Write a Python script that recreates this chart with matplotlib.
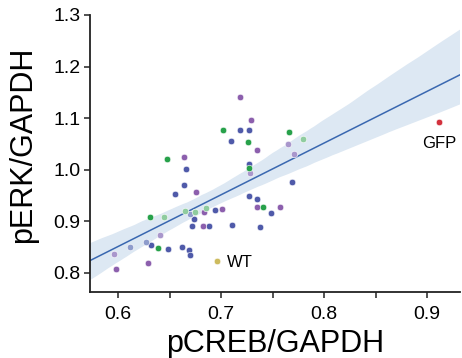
import numpy as np
import pandas as pd
import matplotlib
matplotlib.use("Agg")
import matplotlib.pyplot as plt
import seaborn as sns

# ---- data ----
blue_x = [0.666, 0.664, 0.655, 0.674, 0.694, 0.672, 0.688, 0.632, 0.648, 0.662, 0.669, 0.670,
          0.718, 0.727, 0.710, 0.727, 0.769, 0.727, 0.735, 0.748, 0.711, 0.738]
blue_y = [1.001, 0.971, 0.953, 0.904, 0.922, 0.890, 0.890, 0.854, 0.847, 0.851, 0.844, 0.834,
          1.078, 1.078, 1.055, 1.012, 0.976, 0.949, 0.944, 0.917, 0.893, 0.889]
purple_x = [0.664, 0.676, 0.683, 0.701, 0.682, 0.598, 0.629, 0.718, 0.729, 0.735, 0.735, 0.757]
purple_y = [1.025, 0.956, 0.918, 0.924, 0.891, 0.807, 0.820, 1.141, 1.097, 1.038, 0.927, 0.928]
green_x = [0.702, 0.647, 0.631, 0.639, 0.766, 0.726, 0.741, 0.727]
green_y = [1.078, 1.020, 0.909, 0.848, 1.074, 1.054, 0.928, 1.003]
lgreen_x = [0.645, 0.665, 0.675, 0.685, 0.780]
lgreen_y = [0.909, 0.920, 0.918, 0.925, 1.060]
lblue_x = [0.670, 0.627, 0.612]
lblue_y = [0.914, 0.860, 0.851]
lpurple_x = [0.641, 0.596, 0.765, 0.771, 0.728]
lpurple_y = [0.873, 0.836, 1.049, 1.030, 0.994]
wt_x = [0.696]
wt_y = [0.823]
gfp_x = [0.912]
gfp_y = [1.093]

x_ticks = [0.6, 0.7, 0.8, 0.9]
x_minor = [0.65, 0.75, 0.85]
y_ticks = [0.8, 0.9, 1.0, 1.1, 1.2, 1.3]

groups = [
    (blue_x, blue_y, "#4f5aa9"),
    (purple_x, purple_y, "#8c5fad"),
    (lblue_x, lblue_y, "#8e9ccc"),
    (lpurple_x, lpurple_y, "#a997cc"),
    (lgreen_x, lgreen_y, "#8fcc9f"),
    (green_x, green_y, "#27a14a"),
    (wt_x, wt_y, "#cdbb5e"),
    (gfp_x, gfp_y, "#d3313d"),
]

plt.rcParams['font.family'] = ['Liberation Sans', 'DejaVu Sans']

fig = plt.figure(figsize=(4.62, 3.58), dpi=100)
ax = fig.add_axes([90/462, 1-292/358, 370/462, (292-15)/358])
ax.set_xlim(0.5727, 0.932)
ax.set_ylim(0.763, 1.3)

all_x = sum([list(g[0]) for g in groups], [])
all_y = sum([list(g[1]) for g in groups], [])
df = pd.DataFrame({"x": all_x, "y": all_y})
sns.regplot(data=df, x="x", y="y", ax=ax, scatter=False, truncate=False, seed=3,
            line_kws=dict(color="#3a68b0", lw=1.1), color="#9fc0e0")
for coll in ax.collections:
    coll.set_facecolor("#dde8f3")
    coll.set_alpha(1)
    coll.set_edgecolor("none")

for gx, gy, c in groups:
    ax.scatter(gx, gy, s=22, color=c, edgecolor="white", linewidth=0.4, zorder=3)

ax.text(wt_x[0] + 0.0095, wt_y[0] - 0.003, "WT", fontsize=12, va="center", ha="left")
ax.text(gfp_x[0], gfp_y[0] - 0.043, "GFP", fontsize=12, va="center", ha="center")

ax.set_xlim(0.5727, 0.932)
ax.set_ylim(0.763, 1.3)
ax.set_xticks(x_ticks)
ax.set_xticklabels([f"{v:.1f}" for v in x_ticks])
ax.set_xticks(x_minor, minor=True)
ax.set_yticks(y_ticks)
ax.set_yticklabels([f"{v:.1f}" for v in y_ticks])
ax.tick_params(axis="both", labelsize=14, length=4, width=1.2, color="#333333")
ax.tick_params(axis="x", pad=6)
ax.tick_params(axis="y", pad=3)
ax.tick_params(axis="x", which="minor", length=4, width=1.2, color="#333333")
for s in ["top", "right"]:
    ax.spines[s].set_visible(False)
for s in ["left", "bottom"]:
    ax.spines[s].set_linewidth(1.3)
    ax.spines[s].set_color("#222222")
ax.set_xlabel("pCREB/GAPDH", fontsize=22, labelpad=4.5)
ax.set_ylabel("pERK/GAPDH", fontsize=22, labelpad=6)
ax.yaxis.set_label_coords(-0.14, 0.531)

fig.savefig("out.png", dpi=100)
